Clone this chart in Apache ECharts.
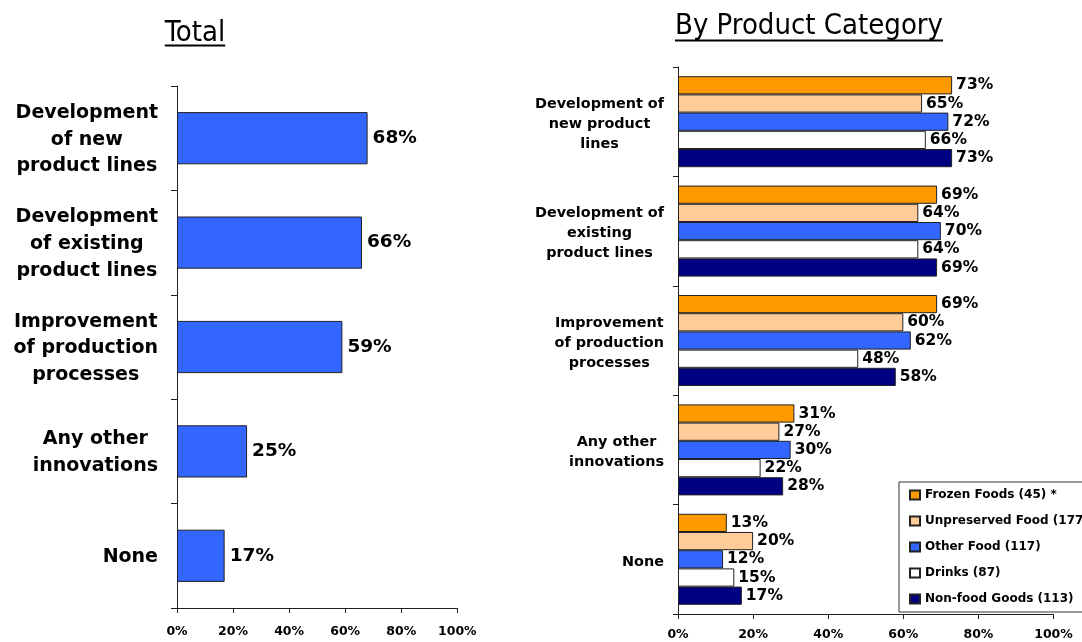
<!DOCTYPE html>
<html>
<head>
<meta charset="utf-8">
<script src="https://cdn.jsdelivr.net/npm/echarts@6/dist/echarts.min.js"></script>
<style>
html, body { margin: 0; padding: 0; background: #fff; }
#chart { width: 1082px; height: 642px; }
</style>
</head>
<body>
<div id="chart"></div>
<script>
// ---- data ----
const totalCategories = ['Development\nof new\nproduct lines', 'Development\nof existing\nproduct lines', 'Improvement\nof production\nprocesses', 'Any other\ninnovations', 'None'];
const totalValues = [68, 66, 59, 25, 17];

const productCategories = ['Development of\nnew product\nlines', 'Development of\nexisting\nproduct lines', 'Improvement\nof production\nprocesses', 'Any other\ninnovations', 'None'];
const seriesNames = ['Frozen Foods (45) *', 'Unpreserved Food (177)', 'Other Food (117)', 'Drinks (87)', 'Non-food Goods (113)'];
const frozenFoods = [73, 69, 69, 31, 13];
const unpreservedFood = [65, 64, 60, 27, 20];
const otherFood = [72, 70, 62, 30, 12];
const drinks = [66, 64, 48, 22, 15];
const nonFoodGoods = [73, 69, 58, 28, 17];

const leftTitle = 'Total';
const rightTitle = 'By Product Category';

// ---- styles ----
const FONT = "'DejaVu Sans', Verdana, sans-serif";
const TITLE_FONT = "'DejaVu Sans Condensed', 'DejaVu Sans', sans-serif";
const seriesColors = ['#FF9900', '#FFCC99', '#3366FF', '#FFFFFF', '#000080'];
const seriesData = [frozenFoods, unpreservedFood, otherFood, drinks, nonFoodGoods];

function measure(text, font) {
  const c = document.createElement('canvas').getContext('2d');
  c.font = font;
  return c.measureText(text).width;
}

function catLabel(fontSize, lineHeight, margin, padTop) {
  return {
    margin: margin,
    padding: [padTop, 0, 0, 0],
    formatter: v => v.split('\n').map(s => '{c|' + s + '}').join('\n'),
    rich: {
      c: { align: 'center', fontSize: fontSize, fontWeight: 'bold', lineHeight: lineHeight, color: '#000', fontFamily: FONT }
    }
  };
}

function titleGraphic(text, cx, cy, underlineY, size) {
  const font = '400 ' + size + "px " + TITLE_FONT;
  const w = measure(text, font);
  return [
    { type: 'text', style: { text: text, x: cx, y: cy, font: font, fill: '#000', align: 'center', verticalAlign: 'middle' } },
    { type: 'line', shape: { x1: cx - w / 2, y1: underlineY, x2: cx + w / 2, y2: underlineY }, style: { stroke: '#000', lineWidth: 2 } }
  ];
}

const chart = echarts.init(document.getElementById('chart'));

const valueAxisCommon = (grid, margin, fs) => ({
  gridIndex: grid, type: 'value', min: 0, max: 100, interval: 20,
  axisLine: { show: true, lineStyle: { color: '#222', width: 1 } },
  axisTick: { show: true, length: 5, lineStyle: { color: '#222' } },
  splitLine: { show: false },
  axisLabel: { formatter: '{value}%', fontWeight: 'bold', fontSize: fs, color: '#000', margin: margin, fontFamily: FONT }
});

const option = {
  animation: false,
  backgroundColor: '#fff',
  grid: [
    { left: 177, top: 86, width: 280.3, height: 522 },
    { left: 678, top: 67, width: 375.5, height: 547 }
  ],
  xAxis: [valueAxisCommon(0, 17, 12.5), valueAxisCommon(1, 14, 12.5)],
  yAxis: [
    {
      gridIndex: 0, type: 'category', data: totalCategories, inverse: true,
      axisLine: { show: true, lineStyle: { color: '#222' } },
      axisTick: { show: true, length: 6, lineStyle: { color: '#222' } },
      axisLabel: catLabel(19, 26.7, 19, 3)
    },
    {
      gridIndex: 1, type: 'category', data: productCategories, inverse: true,
      axisLine: { show: true, lineStyle: { color: '#222' } },
      axisTick: { show: true, length: 5, lineStyle: { color: '#222' } },
      axisLabel: catLabel(14.4, 20, 14, 5)
    }
  ],
  legend: {
    data: seriesNames,
    orient: 'vertical', left: 899, top: 482,
    padding: [7, 30, 7, 10],
    itemWidth: 10, itemHeight: 9, itemGap: 14,
    icon: 'rect',
    borderColor: '#333', borderWidth: 1,
    textStyle: { fontSize: 12, fontWeight: 'bold', color: '#000', lineHeight: 12, fontFamily: FONT }
  },
  graphic: [].concat(
    titleGraphic(leftTitle, 195, 33, 45.5, 29),
    titleGraphic(rightTitle, 809, 26, 40.5, 29)
  ),
  series: [
    {
      type: 'bar', name: 'Total', xAxisIndex: 0, yAxisIndex: 0, data: totalValues,
      barCategoryGap: '50%',
      itemStyle: { color: '#3366FF', borderColor: '#222', borderWidth: 1 },
      label: { show: true, position: 'right', distance: 5, formatter: '{c}%', fontSize: 18.5, fontWeight: 'bold', color: '#000', fontFamily: FONT }
    }
  ].concat(seriesNames.map((n, i) => ({
    type: 'bar', name: n, xAxisIndex: 1, yAxisIndex: 1, data: seriesData[i],
    barGap: '0%', barCategoryGap: '16.8%',
    itemStyle: { color: seriesColors[i], borderColor: '#222', borderWidth: 1 },
    label: { show: true, position: 'right', distance: 4, formatter: '{c}%', fontSize: 15.5, fontWeight: 'bold', color: '#000', fontFamily: FONT }
  })))
};

chart.setOption(option);
</script>
</body>
</html>
